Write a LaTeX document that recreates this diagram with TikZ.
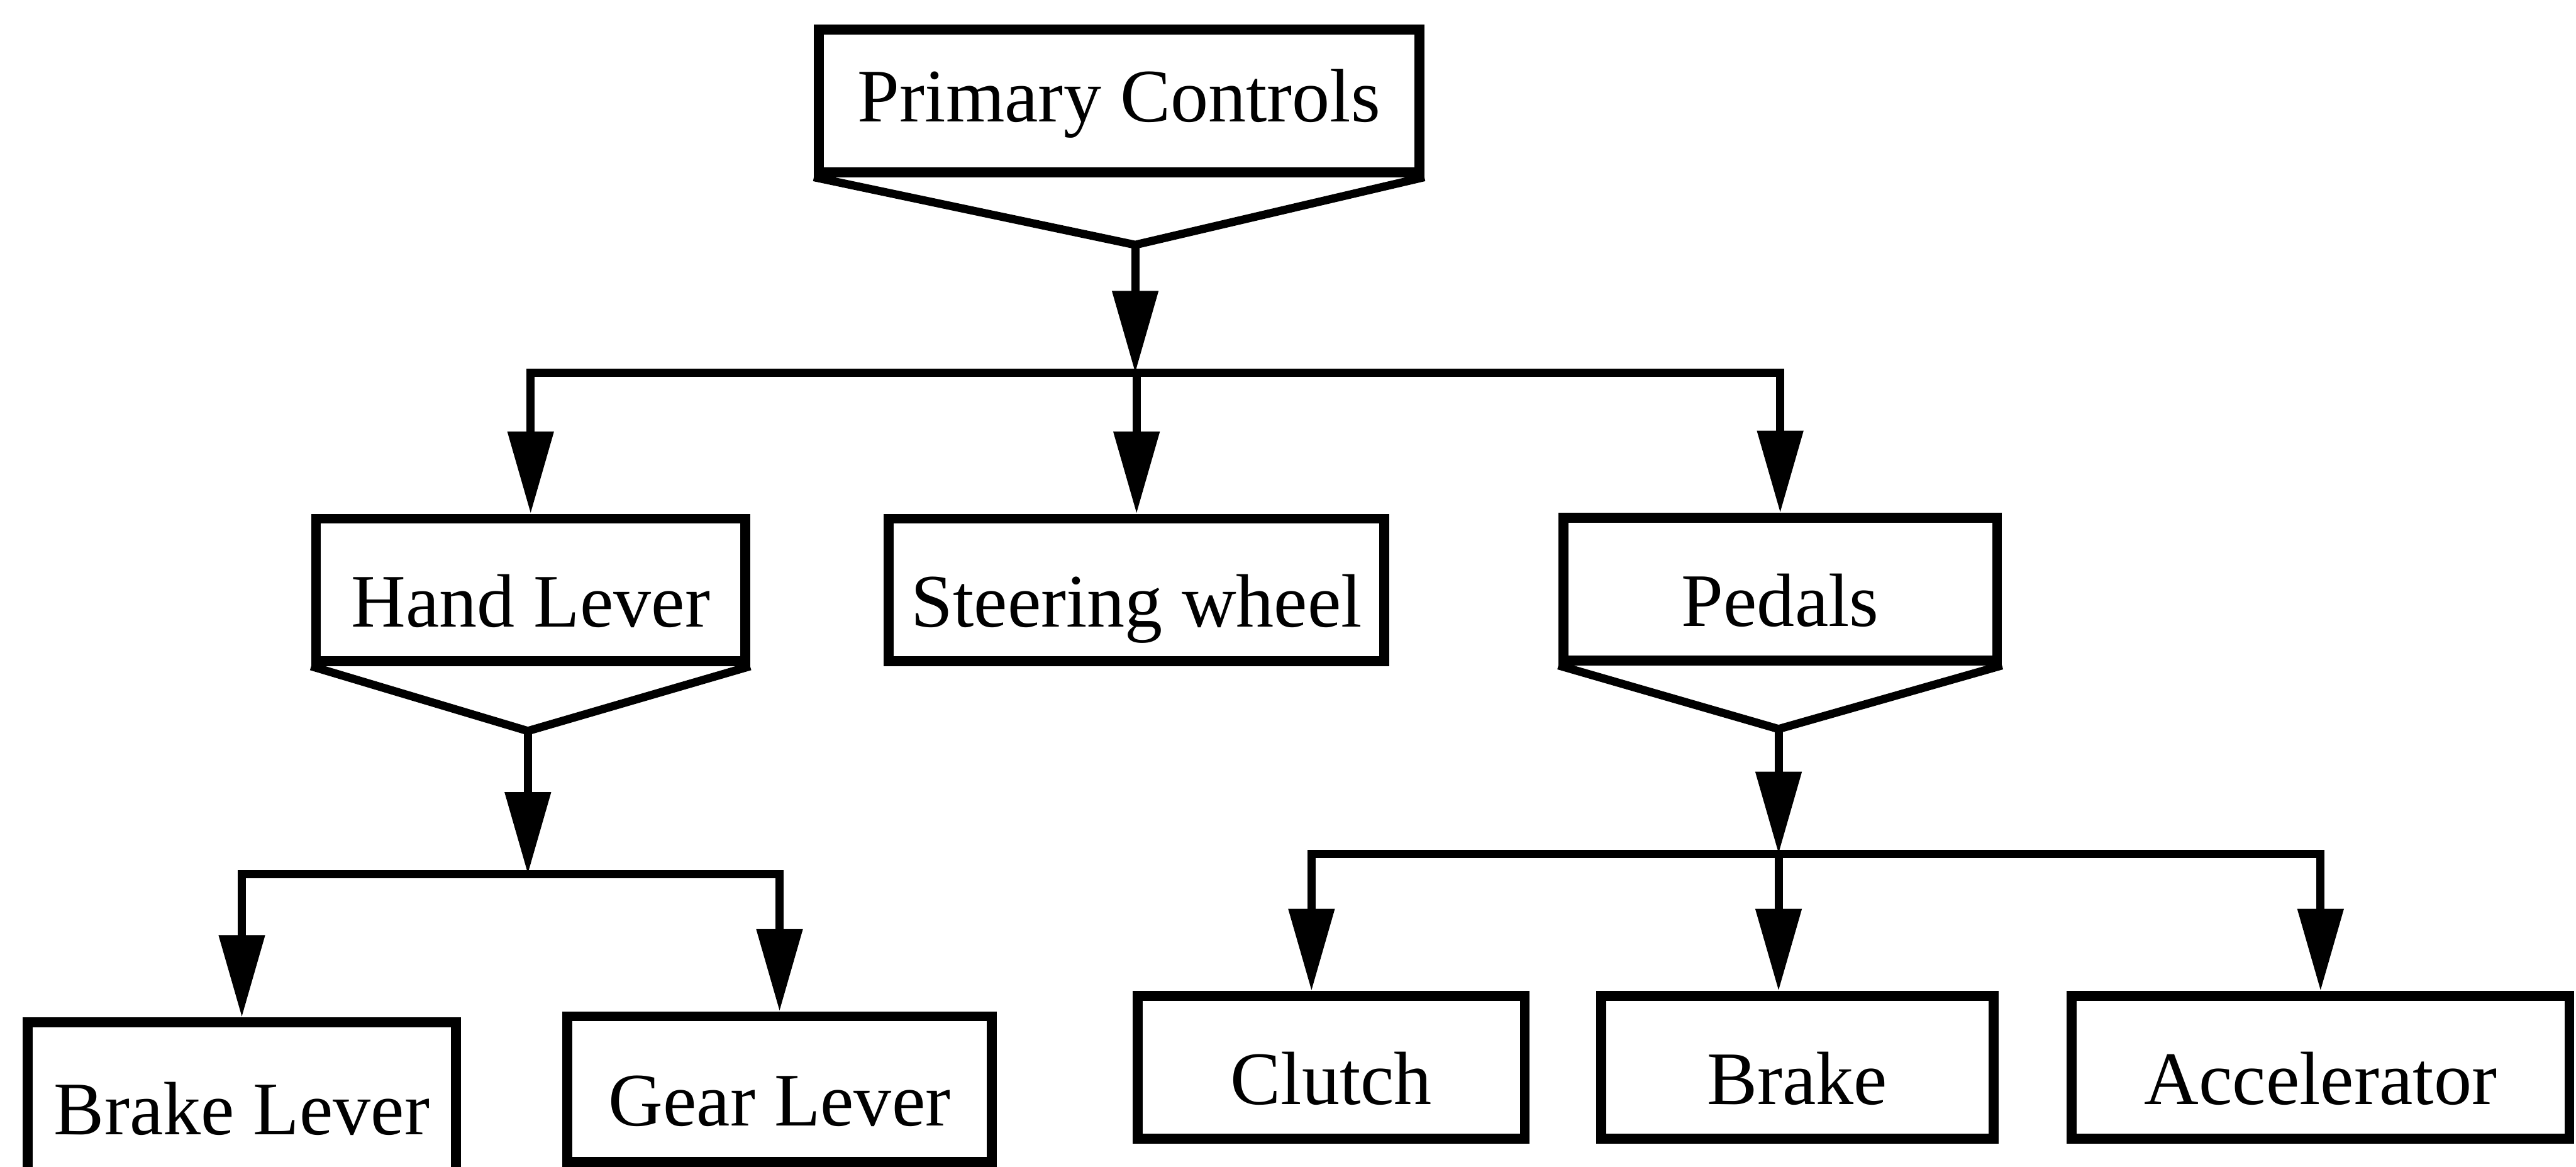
\documentclass[tikz,border=0pt]{standalone}
\usepackage{fontspec}
\setmainfont{Liberation Serif}
\usetikzlibrary{arrows.meta}

\begin{document}
\begin{tikzpicture}[x=50pt,y=50pt,
  >={Triangle[length=25pt,width=13.5pt]},
  ctrl/.style={draw,line width=3pt,inner sep=0pt,minimum height=43.4pt,
    text height=22.5pt,text depth=0pt,font=\fontsize{23pt}{27pt}\selectfont},
  link/.style={line width=2.5pt}]
\useasboundingbox (0,0) rectangle (15.68,-7.10);
% boxes
\node[ctrl,minimum width=182.8pt,text height=12.5pt] (primary) at (6.812,-0.614) {Primary Controls};
\node[ctrl,minimum width=130.6pt] (hand) at (3.23,-3.59) {Hand Lever};
\node[ctrl,minimum width=150.8pt] (steering) at (6.918,-3.59) {Steering wheel};
\node[ctrl,minimum width=132pt] (pedals) at (10.836,-3.585) {Pedals};
\node[ctrl,minimum width=130.4pt,minimum height=46pt] (brakelever) at (1.472,-6.68) {Brake Lever};
\node[ctrl,minimum width=129.2pt,minimum height=44.3pt] (gearlever) at (4.745,-6.627) {Gear Lever};
\node[ctrl,minimum width=117.8pt] (clutch) at (8.103,-6.494) {Clutch};
\node[ctrl,minimum width=119.5pt] (brake) at (10.94,-6.494) {Brake};
\node[ctrl,minimum width=151.5pt] (accel) at (14.125,-6.494) {Accelerator};
% fork points
\coordinate (pcTip) at (6.91,-1.49);
\coordinate (pcBar) at (6.91,-2.27);
\coordinate (hlTip) at (3.213,-4.448);
\coordinate (hlBar) at (3.213,-5.32);
\coordinate (pdTip) at (10.826,-4.436);
\coordinate (pdBar) at (10.826,-5.196);
\coordinate (clTop) at ([xshift=-6pt]clutch.north);
% funnels under the parent boxes
\draw[link] (primary.south west) -- (pcTip) -- (primary.south east);
\draw[link] (hand.south west) -- (hlTip) -- (hand.south east);
\draw[link] (pedals.south west) -- (pdTip) -- (pedals.south east);
% primary controls
\draw[link,->] (pcTip) -- (pcBar);
\draw[link,<->] (hand.north) -- (hand.north |- pcBar) -- (pedals.north |- pcBar) -- (pedals.north);
\draw[link,->] (steering.north |- pcBar) -- (steering.north);
% hand lever
\draw[link,->] (hlTip) -- (hlBar);
\draw[link,<->] (brakelever.north) -- (brakelever.north |- hlBar) -- (gearlever.north |- hlBar) -- (gearlever.north);
% pedals
\draw[link,->] (pdTip) -- (pdBar);
\draw[link,<->] (clTop) -- (clTop |- pdBar) -- (accel.north |- pdBar) -- (accel.north);
\draw[link,->] (pdBar) -- (pdBar |- brake.north);
\end{tikzpicture}
\end{document}
